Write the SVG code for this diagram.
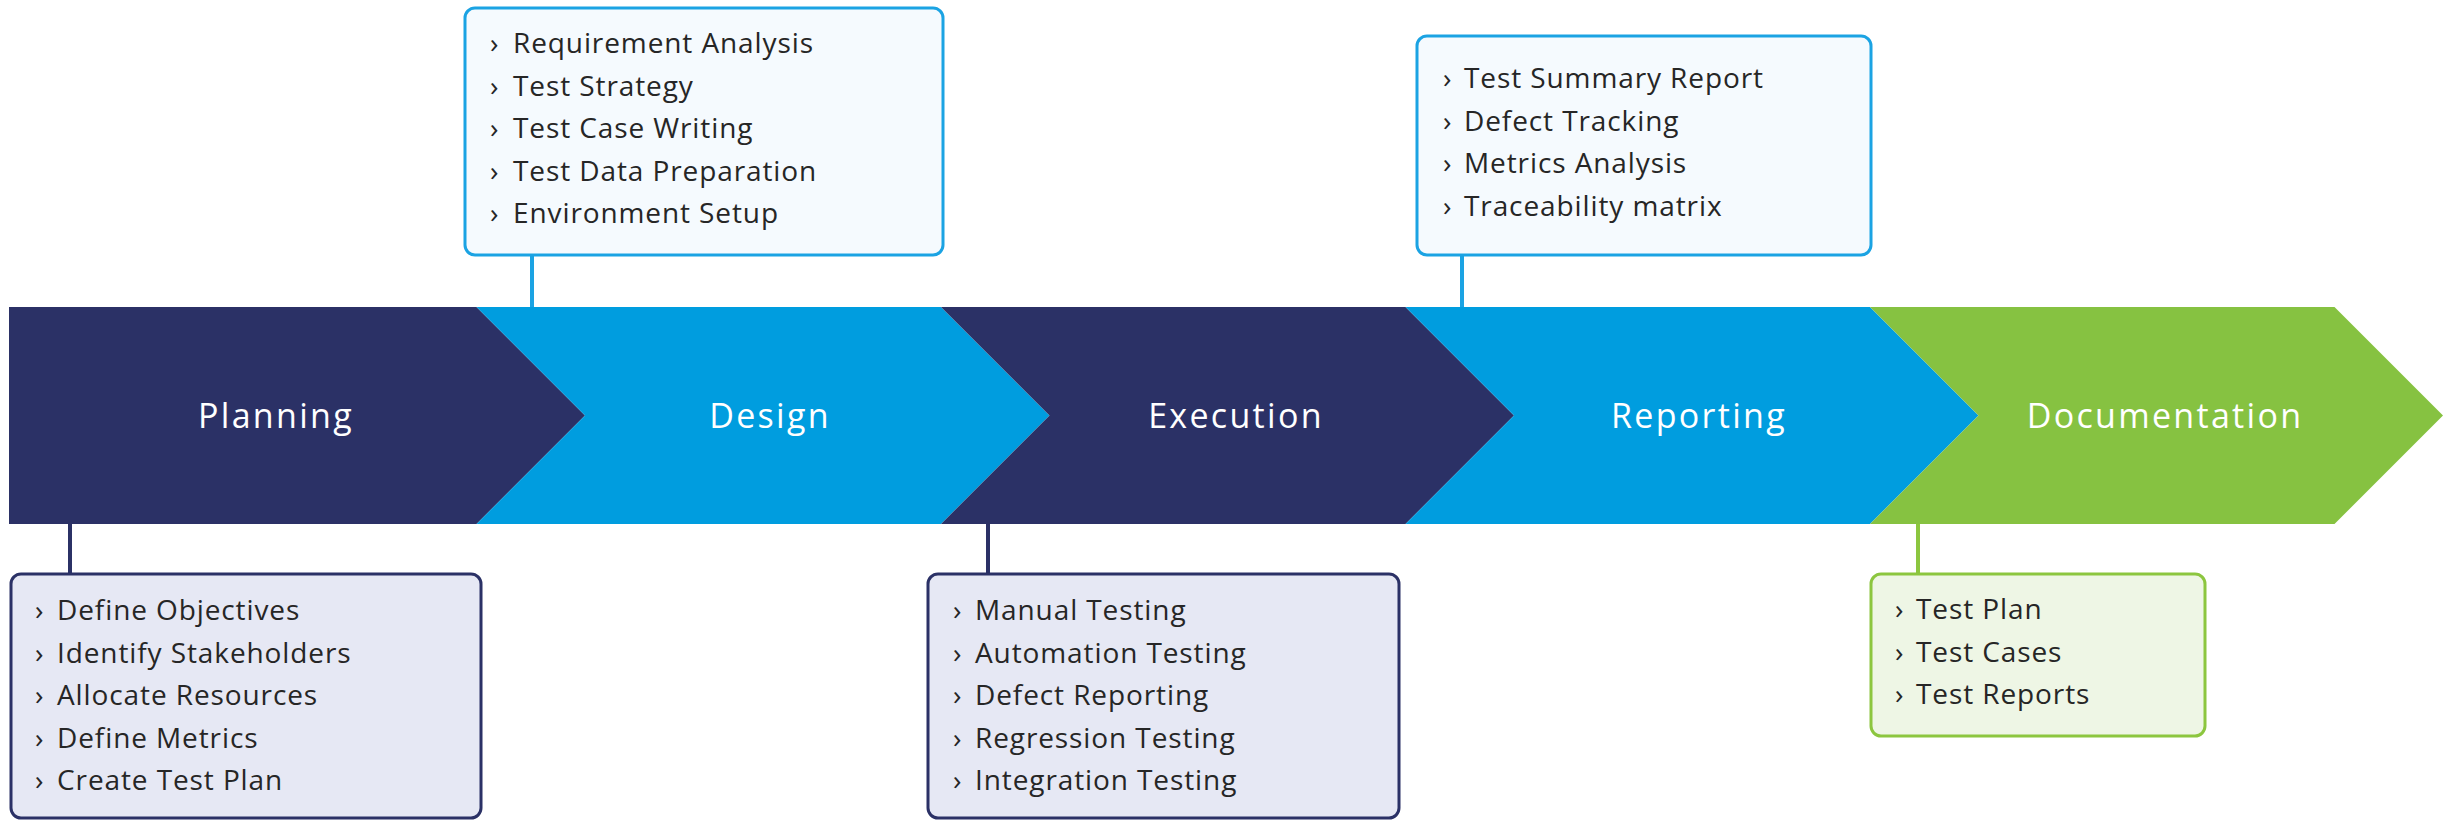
<svg xmlns="http://www.w3.org/2000/svg" width="2445" height="820" viewBox="0 0 2445 820">
<style>
.lbl{font-family:"Open Sans","Noto Sans",sans-serif;font-size:34px;fill:#ffffff;text-anchor:middle;letter-spacing:2.3px}
.it{font-family:"Open Sans","Noto Sans",sans-serif;font-size:28px;fill:#262626;letter-spacing:0.9px}
.navy{fill:#2B3166}
.blue{fill:#009DDF}
.green{fill:#86C241}
.bxN{fill:#E6E8F4;stroke:#2B3166;stroke-width:3}
.bxB{fill:#F5FAFE;stroke:#1BA3E3;stroke-width:3}
.bxG{fill:#EEF6E5;stroke:#8CC63F;stroke-width:3}
.cN{stroke:#2B3166;stroke-width:4}
.cB{stroke:#1BA3E3;stroke-width:4}
.cG{stroke:#8CC63F;stroke-width:4}
</style>
<rect width="2445" height="820" fill="#ffffff"/>
<g id="connectors">
<line class="cN" x1="70" y1="522" x2="70" y2="574"/>
<line class="cB" x1="532" y1="255" x2="532" y2="309"/>
<line class="cN" x1="988" y1="522" x2="988" y2="574"/>
<line class="cB" x1="1462" y1="255" x2="1462" y2="309"/>
<line class="cG" x1="1918" y1="522" x2="1918" y2="574"/>
</g>
<g id="planning">
<polygon class="navy" points="9,307 476.5,307 585,415.5 476.5,524 9,524"/>
<text class="lbl" x="276" y="428">Planning</text>
</g>
<g id="design">
<polygon class="blue" points="476.5,307 941,307 1049.5,415.5 941,524 476.5,524 585,415.5"/>
<text class="lbl" x="770" y="428">Design</text>
</g>
<g id="execution">
<polygon class="navy" points="941,307 1405.5,307 1514,415.5 1405.5,524 941,524 1049.5,415.5"/>
<text class="lbl" x="1236" y="428">Execution</text>
</g>
<g id="reporting">
<polygon class="blue" points="1405.5,307 1870,307 1978.5,415.5 1870,524 1405.5,524 1514,415.5"/>
<text class="lbl" x="1699" y="428">Reporting</text>
</g>
<g id="documentation">
<polygon class="green" points="1870,307 2334.5,307 2443,415.5 2334.5,524 1870,524 1978.5,415.5"/>
<text class="lbl" x="2165" y="428">Documentation</text>
</g>
<g id="planning-box">
<rect class="bxN" x="11" y="574" width="470" height="244" rx="10"/>
<text class="it" x="35" y="620">›</text><text class="it" x="57" y="620">Define Objectives</text>
<text class="it" x="35" y="662.5">›</text><text class="it" x="57" y="662.5">Identify Stakeholders</text>
<text class="it" x="35" y="705">›</text><text class="it" x="57" y="705">Allocate Resources</text>
<text class="it" x="35" y="747.5">›</text><text class="it" x="57" y="747.5">Define Metrics</text>
<text class="it" x="35" y="790">›</text><text class="it" x="57" y="790">Create Test Plan</text>
</g>
<g id="design-box">
<rect class="bxB" x="465" y="8" width="478" height="247" rx="10"/>
<text class="it" x="490" y="53">›</text><text class="it" x="513" y="53">Requirement Analysis</text>
<text class="it" x="490" y="95.5">›</text><text class="it" x="513" y="95.5">Test Strategy</text>
<text class="it" x="490" y="138">›</text><text class="it" x="513" y="138">Test Case Writing</text>
<text class="it" x="490" y="180.5">›</text><text class="it" x="513" y="180.5">Test Data Preparation</text>
<text class="it" x="490" y="223">›</text><text class="it" x="513" y="223">Environment Setup</text>
</g>
<g id="execution-box">
<rect class="bxN" x="928" y="574" width="471" height="244" rx="10"/>
<text class="it" x="953" y="620">›</text><text class="it" x="975" y="620">Manual Testing</text>
<text class="it" x="953" y="662.5">›</text><text class="it" x="975" y="662.5">Automation Testing</text>
<text class="it" x="953" y="705">›</text><text class="it" x="975" y="705">Defect Reporting</text>
<text class="it" x="953" y="747.5">›</text><text class="it" x="975" y="747.5">Regression Testing</text>
<text class="it" x="953" y="790">›</text><text class="it" x="975" y="790">Integration Testing</text>
</g>
<g id="reporting-box">
<rect class="bxB" x="1417" y="36" width="454" height="219" rx="10"/>
<text class="it" x="1443" y="88">›</text><text class="it" x="1464" y="88">Test Summary Report</text>
<text class="it" x="1443" y="130.5">›</text><text class="it" x="1464" y="130.5">Defect Tracking</text>
<text class="it" x="1443" y="173">›</text><text class="it" x="1464" y="173">Metrics Analysis</text>
<text class="it" x="1443" y="215.5">›</text><text class="it" x="1464" y="215.5">Traceability matrix</text>
</g>
<g id="documentation-box">
<rect class="bxG" x="1871" y="574" width="334" height="162" rx="10"/>
<text class="it" x="1895" y="619">›</text><text class="it" x="1916" y="619">Test Plan</text>
<text class="it" x="1895" y="661.5">›</text><text class="it" x="1916" y="661.5">Test Cases</text>
<text class="it" x="1895" y="704">›</text><text class="it" x="1916" y="704">Test Reports</text>
</g>
</svg>
